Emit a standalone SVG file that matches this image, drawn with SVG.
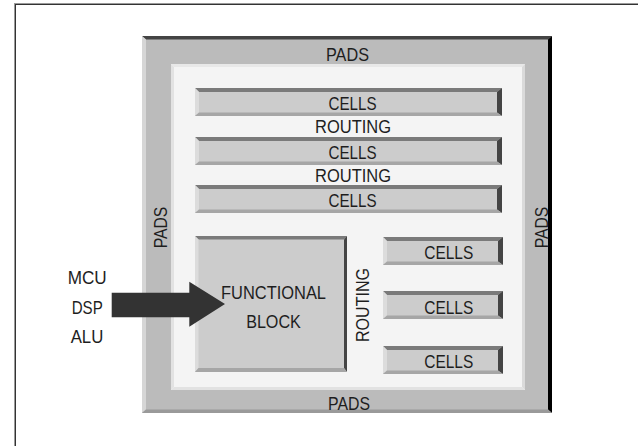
<svg xmlns="http://www.w3.org/2000/svg" width="638" height="446" viewBox="0 0 638 446">
<style>
text{font-family:"Liberation Sans",Arial,sans-serif;font-size:18px;fill:#1e1e1e;text-anchor:middle}
.fill-out{fill:#bbbbbb}
.fill-in{fill:#f4f4f4}
.fill-cell{fill:#cccccc}
.hl{fill:#dcdcdc}
.dk{fill:#7a7a7a}
.dr{fill:#444444}
.mb{fill:#a6a6a6}
.inl{fill:#e2e2e2}
</style>
<rect width="638" height="446" fill="#ffffff"/>
<g id="frame">
<line x1="14" y1="3.5" x2="638" y2="3.5" stroke="#9a9a9a" stroke-width="1"/>
<line x1="14.5" y1="3" x2="14.5" y2="446" stroke="#9a9a9a" stroke-width="1"/>
<line x1="15" y1="4.5" x2="638" y2="4.5" stroke="#333" stroke-width="1"/>
<line x1="15.5" y1="4" x2="15.5" y2="446" stroke="#333" stroke-width="1"/>
</g>
<g id="pads">
<rect class="fill-out" x="142" y="36" width="410" height="377"/>
<polygon fill="#444" points="142,36 552,36 548,39.5 146,39.5"/>
<polygon fill="#d6d6d6" points="142,36 146,39.5 146,409.5 142,413"/>
<polygon fill="#000" points="552,36 552,413 548,409.5 548,39.5"/>
<polygon fill="#9a9a9a" points="142,413 552,413 548,409.5 146,409.5"/>
<text x="347.5" y="60.5" textLength="43" lengthAdjust="spacingAndGlyphs">PADS</text>
<text x="349" y="409.5" textLength="42" lengthAdjust="spacingAndGlyphs">PADS</text>
<text transform="translate(166.5,227.5) rotate(-90)" textLength="41.6" lengthAdjust="spacingAndGlyphs">PADS</text>
<text transform="translate(548,227.5) rotate(-90)" textLength="41.6" lengthAdjust="spacingAndGlyphs">PADS</text>
</g>
<g id="core">
<rect class="fill-in" x="171" y="64" width="354" height="326"/>
<polygon fill="#e8e8e8" points="171,64 525,64 522,67 174,67"/>
<polygon class="inl" points="171,64 174,67 174,387 171,390"/>
<polygon fill="#dadada" points="525,64 525,390 522,387 522,67"/>
<polygon class="inl" points="171,390 525,390 522,387 174,387"/>
<text x="353" y="133" textLength="76" lengthAdjust="spacingAndGlyphs">ROUTING</text>
<text x="353" y="181.5" textLength="76" lengthAdjust="spacingAndGlyphs">ROUTING</text>
<text transform="translate(368.5,305) rotate(-90)" textLength="74" lengthAdjust="spacingAndGlyphs">ROUTING</text>
</g>
<g id="cells-row1">
<rect class="fill-cell" x="195" y="88" width="307" height="28"/>
<polygon class="dk" points="195,88 502,88 497,92 199,92"/>
<polygon class="hl" points="195,88 199,92 199,112.5 195,116"/>
<polygon class="dr" points="502,88 502,116 497,112.5 497,92"/>
<polygon class="mb" points="195,116 502,116 497,112.5 199,112.5"/>
<text x="352.5" y="110" textLength="48" lengthAdjust="spacingAndGlyphs">CELLS</text>
</g>
<g id="cells-row2">
<rect class="fill-cell" x="195" y="137" width="307" height="28"/>
<polygon class="dk" points="195,137 502,137 497,141 199,141"/>
<polygon class="hl" points="195,137 199,141 199,161.5 195,165"/>
<polygon class="dr" points="502,137 502,165 497,161.5 497,141"/>
<polygon class="mb" points="195,165 502,165 497,161.5 199,161.5"/>
<text x="352.5" y="158.5" textLength="48" lengthAdjust="spacingAndGlyphs">CELLS</text>
</g>
<g id="cells-row3">
<rect class="fill-cell" x="195" y="185" width="307" height="28"/>
<polygon class="dk" points="195,185 502,185 497,189 199,189"/>
<polygon class="hl" points="195,185 199,189 199,209.5 195,213"/>
<polygon class="dr" points="502,185 502,213 497,209.5 497,189"/>
<polygon class="mb" points="195,213 502,213 497,209.5 199,209.5"/>
<text x="352.5" y="207" textLength="48" lengthAdjust="spacingAndGlyphs">CELLS</text>
</g>
<g id="functional-block">
<rect class="fill-cell" x="195" y="236" width="152" height="136"/>
<polygon class="dk" points="195,236 347,236 344,239.5 198.5,239.5"/>
<polygon class="hl" points="195,236 198.5,239.5 198.5,368 195,372"/>
<polygon class="dr" points="347,236 347,372 344,368 344,239.5"/>
<polygon class="mb" points="195,372 347,372 344,368 198.5,368"/>
<text x="273.5" y="299" textLength="105" lengthAdjust="spacingAndGlyphs">FUNCTIONAL</text>
<text x="273.5" y="328.3" textLength="54.7" lengthAdjust="spacingAndGlyphs">BLOCK</text>
</g>
<g id="cells-a">
<rect class="fill-cell" x="383" y="237" width="120" height="28"/>
<polygon class="dk" points="383,237 503,237 498,241 387,241"/>
<polygon class="hl" points="383,237 387,241 387,261.5 383,265"/>
<polygon class="dr" points="503,237 503,265 498,261.5 498,241"/>
<polygon class="mb" points="383,265 503,265 498,261.5 387,261.5"/>
<text x="448.8" y="259.3" textLength="49" lengthAdjust="spacingAndGlyphs">CELLS</text>
</g>
<g id="cells-b">
<rect class="fill-cell" x="383" y="291" width="120" height="28"/>
<polygon class="dk" points="383,291 503,291 498,295 387,295"/>
<polygon class="hl" points="383,291 387,295 387,315.5 383,319"/>
<polygon class="dr" points="503,291 503,319 498,315.5 498,295"/>
<polygon class="mb" points="383,319 503,319 498,315.5 387,315.5"/>
<text x="448.8" y="313.6" textLength="49" lengthAdjust="spacingAndGlyphs">CELLS</text>
</g>
<g id="cells-c">
<rect class="fill-cell" x="383" y="346" width="120" height="28"/>
<polygon class="dk" points="383,346 503,346 498,350 387,350"/>
<polygon class="hl" points="383,346 387,350 387,370.5 383,374"/>
<polygon class="dr" points="503,346 503,374 498,370.5 498,350"/>
<polygon class="mb" points="383,374 503,374 498,370.5 387,370.5"/>
<text x="448.8" y="368" textLength="49" lengthAdjust="spacingAndGlyphs">CELLS</text>
</g>
<g id="inputs">
<text x="87.2" y="284" textLength="39" lengthAdjust="spacingAndGlyphs">MCU</text>
<text x="87.2" y="314.3" textLength="31" lengthAdjust="spacingAndGlyphs">DSP</text>
<text x="87" y="343.3" textLength="32.6" lengthAdjust="spacingAndGlyphs">ALU</text>
</g>
<g id="connectors">
<polygon fill="#333333" points="111.7,292.7 189.3,292.7 189.3,281.7 225,304 189.3,326.7 189.3,317.3 111.7,317.3"/>
</g>
</svg>
